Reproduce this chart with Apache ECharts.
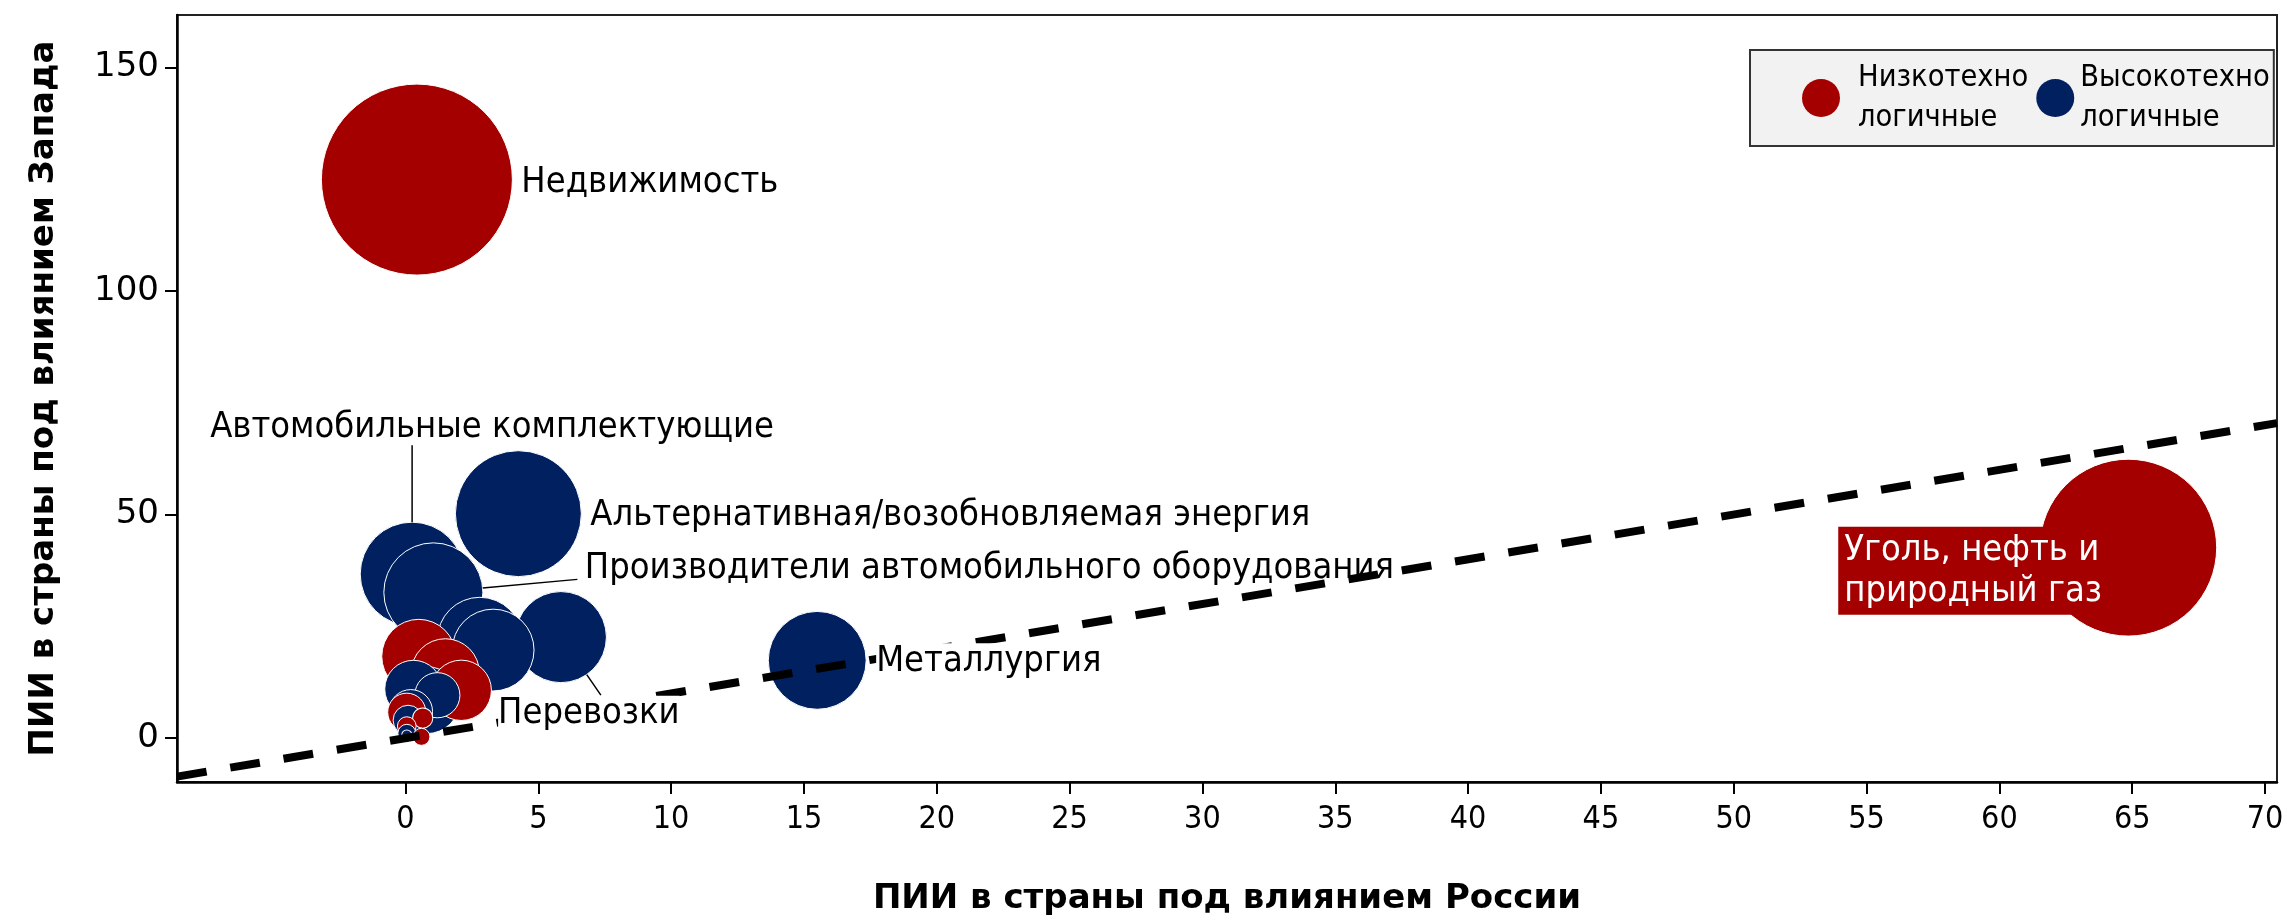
<!DOCTYPE html>
<html>
<head>
<meta charset="utf-8">
<script src="https://cdn.jsdelivr.net/npm/echarts@6.0.0/dist/echarts.min.js"></script>
<style>
html,body{margin:0;padding:0;background:#fff;}
#chart{width:2287px;height:920px;}
</style>
</head>
<body>
<div id="chart"></div>
<script>
// ---------------- DATA ----------------
const xTicks = [0, 5, 10, 15, 20, 25, 30, 35, 40, 45, 50, 55, 60, 65, 70];
const yTicks = [0, 50, 100, 150];

const seriesNames = ['Низкотехно\nлогичные', 'Высокотехно\nлогичные'];

// Low-tech sectors (red)
const lowNames = ['Недвижимость', 'Уголь, нефть и\nприродный газ', '', '', '', '', '', '', ''];
const lowX    = [0.43, 64.85, 0.50, 1.50, 2.10, 0.05, 0.65, 0.05, 0.60];
const lowY    = [124.9, 42.6, 18.3, 14.6, 10.7, 5.8, 4.5, 2.7, 0.3];
const lowSize = [125.3, 107.5, 18.8, 16.0, 12.5, 5.0, 1.4, 1.2, 1.0];

// High-tech sectors (navy)
const highNames = ['Альтернативная/возобновляемая энергия', 'Автомобильные комплектующие',
  'Производители автомобильного оборудования', 'Перевозки', 'Металлургия',
  '', '', '', '', '', '', '', '', ''];
const highX    = [4.25, 0.25, 1.05, 5.85, 15.5, 2.80, 3.30, 0.30, 0.80, 1.20, 0.20, 0.10, 0.05, 0.05];
const highY    = [50.2, 36.7, 32.6, 22.6, 17.4, 22.0, 19.7, 11.0, 8.5, 9.6, 6.0, 4.0, 1.1, 0.7];
const highSize = [54.5, 37.0, 33.7, 28.5, 32.9, 24.8, 23.0, 11.3, 15.4, 7.0, 6.5, 3.1, 1.1, 0.35];

// Parity line y = x
const parityX = [-8.6, 70.45];

// ---------------- STYLE ----------------
const RED = '#A50000';
const NAVY = '#002060';
const FONT = "'DejaVu Sans Condensed', 'DejaVu Sans', sans-serif";
const FONT_WIDE = "'DejaVu Sans', sans-serif";
const K = 17.06; // bubble diameter per sqrt(size)

const bubbles = [];
lowX.forEach((x, i) => bubbles.push({ value: [x, lowY[i], lowSize[i]], name: lowNames[i], cat: 0 }));
highX.forEach((x, i) => bubbles.push({ value: [x, highY[i], highSize[i]], name: highNames[i], cat: 1 }));
bubbles.sort((a, b) => b.value[2] - a.value[2]);

const bubbleData = bubbles.map(b => ({
  value: b.value,
  name: b.name,
  itemStyle: { color: b.cat === 0 ? RED : NAVY }
}));

// label placement (pixel styling)
const labelCfg = {
  'Недвижимость': { position: 'right', distance: 9, dy: 3 },
  'Альтернативная/возобновляемая энергия': { position: 'right', distance: 9, dy: 2 },
  'Металлургия': { position: 'right', distance: 10, dy: 1 },
  'Уголь, нефть и\nприродный газ': { position: 'inside', dx: -290, dy: 23, color: '#fff',
      backgroundColor: RED, padding: [3, 6, 3, 6], lineHeight: 41, align: 'left' },
  'Автомобильные комплектующие': { position: 'top', distance: 5, dx: 80, dy: -72, leader: [0, -77, 'top'] },
  'Производители автомобильного оборудования': { position: 'right', distance: 5, dx: 97, dy: -24,
      leader: [144, -13], backgroundColor: 'transparent' },
  'Перевозки': { position: 'bottom', distance: 5, dx: 28, dy: 8, leader: [40, 58] }
};

const labelItems = bubbles.filter(b => b.name).map(b => {
  const c = labelCfg[b.name] || {};
  return {
    value: b.value,
    name: b.name,
    label: {
      show: true,
      position: c.position,
      distance: c.distance,
      color: c.color || '#000',
      backgroundColor: c.backgroundColor || '#fff',
      padding: c.padding || [0, 0, 0, 0],
      lineHeight: c.lineHeight,
      align: c.align
    }
  };
});

const chart = echarts.init(document.getElementById('chart'), null, { renderer: 'canvas' });

chart.setOption({
  backgroundColor: '#fff',
  animation: false,
  textStyle: { fontFamily: FONT },
  grid: { left: 177, right: 10, top: 15, bottom: 138, show: true, borderColor: '#222', borderWidth: 2,
          backgroundColor: 'transparent', outerBoundsMode: 'none' },
  legend: {
    left: 1750, top: 50,
    orient: 'horizontal',
    backgroundColor: '#F2F2F2',
    borderColor: '#333', borderWidth: 2,
    padding: [8, 4, 8, 52],
    itemWidth: 38, itemHeight: 38, itemGap: 8,
    icon: 'circle',
    data: [
      { name: seriesNames[0], textStyle: { padding: [0, 0, 0, 13] } },
      { name: seriesNames[1], textStyle: { padding: [0, 0, 0, 1] } }
    ],
    textStyle: { fontFamily: FONT, fontSize: 30.5, color: '#000', lineHeight: 40 }
  },
  xAxis: {
    type: 'value',
    min: -8.6, max: 70.45,
    name: 'ПИИ в страны под влиянием России',
    nameLocation: 'middle', nameGap: 100,
    nameTextStyle: { fontFamily: FONT_WIDE, fontSize: 34, fontWeight: 'bold', color: '#000' },
    axisLine: { show: true, onZero: false, lineStyle: { color: '#000', width: 2.5 } },
    axisTick: { show: true, customValues: xTicks, length: 12, lineStyle: { color: '#000', width: 2 } },
    axisLabel: { show: true, customValues: xTicks, margin: 22, fontFamily: FONT, fontSize: 32, color: '#000' },
    splitLine: { show: false }
  },
  yAxis: {
    type: 'value',
    min: -9.8, max: 161.7,
    name: 'ПИИ в страны под влиянием Запада',
    nameLocation: 'middle', nameGap: 116, nameRotate: 90,
    nameTextStyle: { fontFamily: FONT_WIDE, fontSize: 34, fontWeight: 'bold', color: '#000' },
    axisLine: { show: true, onZero: false, lineStyle: { color: '#000', width: 2.5 } },
    axisTick: { show: true, customValues: yTicks, length: 12, lineStyle: { color: '#000', width: 2 } },
    axisLabel: { show: true, customValues: yTicks, margin: 18, fontFamily: FONT_WIDE, fontSize: 34, color: '#000' },
    splitLine: { show: false }
  },
  series: [
    { name: seriesNames[0], type: 'scatter', data: [], itemStyle: { color: RED, opacity: 1 } },
    { name: seriesNames[1], type: 'scatter', data: [], itemStyle: { color: NAVY, opacity: 1 } },
    {
      name: 'bubbles', type: 'scatter', z: 2,
      data: bubbleData,
      symbolSize: v => K * Math.sqrt(v[2]),
      itemStyle: { borderColor: '#fff', borderWidth: 1, opacity: 1 },
      emphasis: { disabled: true },
      label: { show: false }
    },
    {
      name: 'parity', type: 'line', z: 3,
      data: parityX.map(x => [x, x]),
      showSymbol: false, symbol: 'none',
      lineStyle: { color: '#000', width: 8, type: [30, 24] },
      emphasis: { disabled: true }
    },
    {
      name: 'labels', type: 'scatter', z: 4,
      data: labelItems,
      symbolSize: v => K * Math.sqrt(v[2]),
      itemStyle: { color: 'rgba(0,0,0,0)', opacity: 1 },
      emphasis: { disabled: true },
      label: { show: true, formatter: p => p.name, fontFamily: FONT, fontSize: 36, color: '#000' },
      labelLayout: function (params) {
        const it = labelItems[params.dataIndex];
        const c = labelCfg[it.name] || {};
        return { dx: c.dx || 0, dy: c.dy || 0 };
      }
    }
  ]
});

// Leader lines: start on the bubble's edge (from library pixel mapping), end near the label
const leaders = [];
labelItems.forEach(it => {
  const c = labelCfg[it.name];
  if (!c || !c.leader) return;
  const p = chart.convertToPixel({ xAxisIndex: 0, yAxisIndex: 0 }, [it.value[0], it.value[1]]);
  const r = K * Math.sqrt(it.value[2]) / 2;
  const ex = p[0] + c.leader[0], ey = p[1] + c.leader[1];
  const len = Math.hypot(c.leader[0], c.leader[1]);
  let sx = p[0] + r * c.leader[0] / len, sy = p[1] + r * c.leader[1] / len;
  let fx = ex, fy = ey;
  if (c.leader[2] === 'top') { sx = p[0]; sy = p[1] - r; fx = p[0]; fy = p[1] - r + c.leader[1]; }
  leaders.push({
    type: 'line', z: 100,
    shape: { x1: sx, y1: sy, x2: fx, y2: fy },
    style: { stroke: '#000', lineWidth: 1.5 }
  });
});
chart.setOption({ graphic: leaders });
</script>
</body>
</html>
